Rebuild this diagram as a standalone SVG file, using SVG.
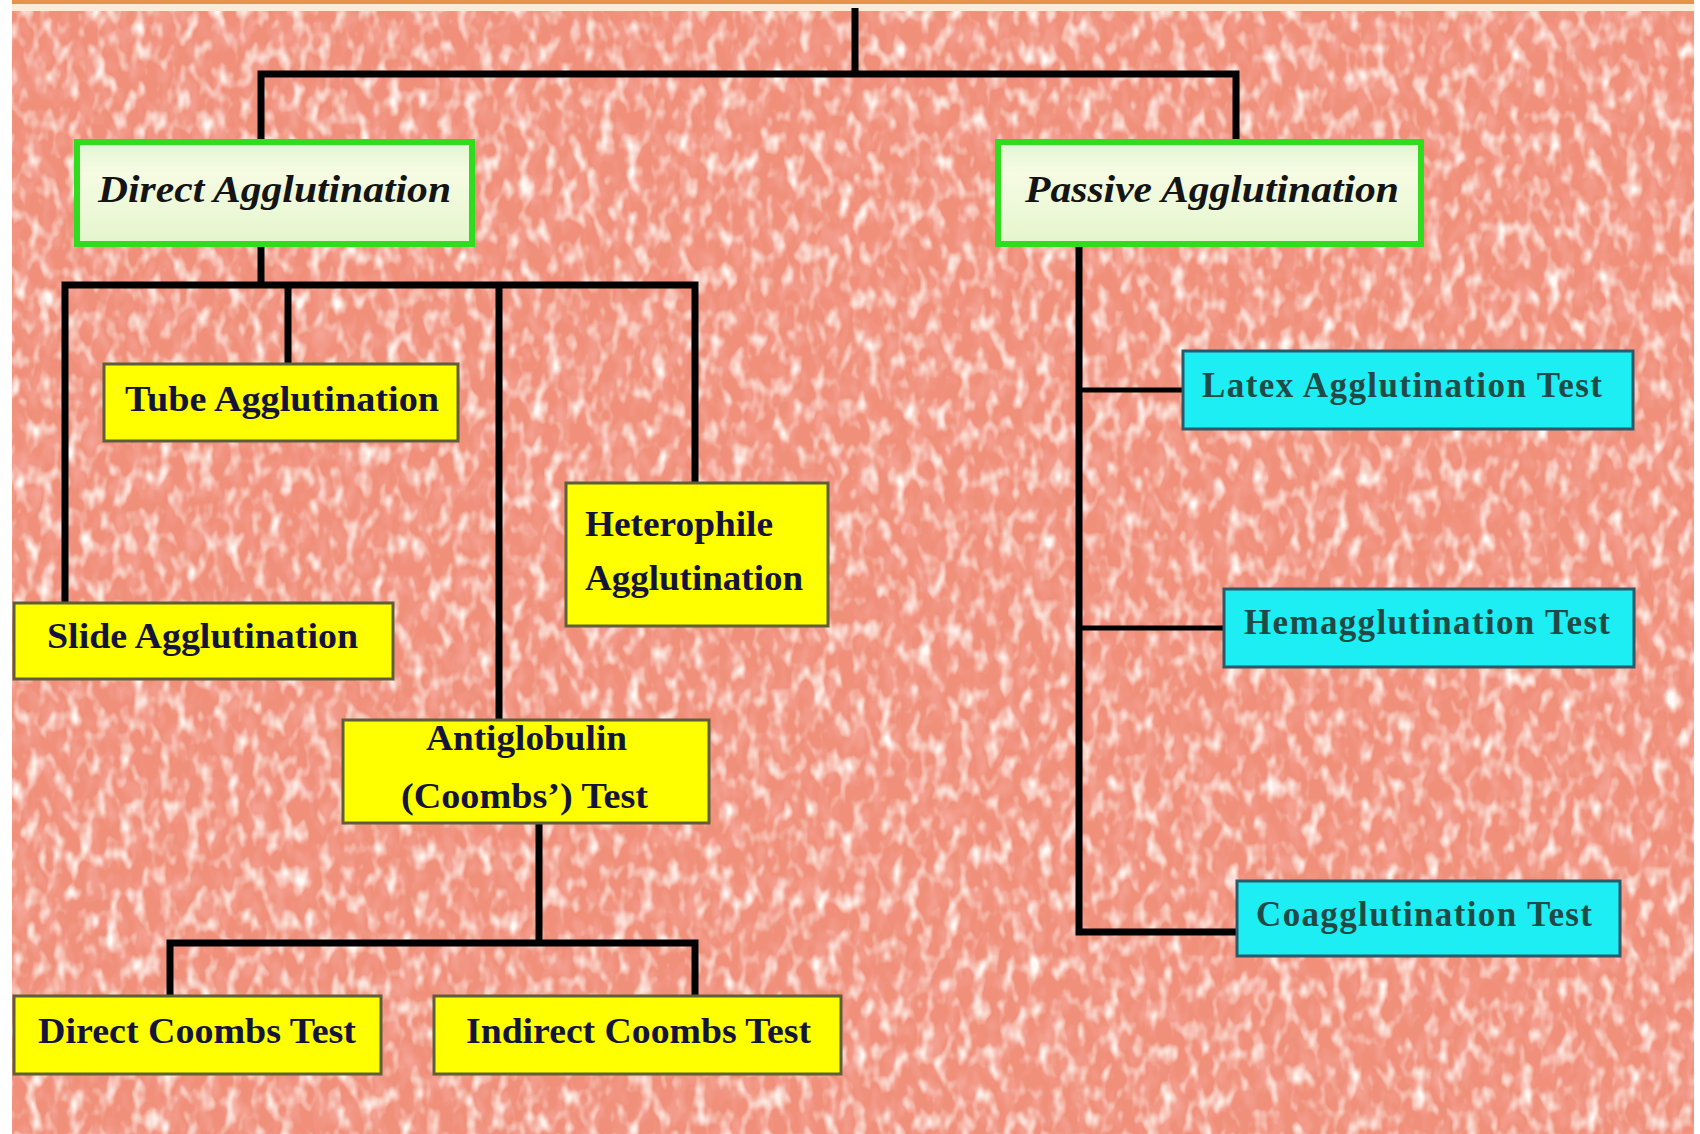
<svg xmlns="http://www.w3.org/2000/svg" width="1700" height="1134" viewBox="0 0 1700 1134">
<defs>
  <filter id="speck" x="0" y="0" width="100%" height="100%">
    <feTurbulence type="fractalNoise" baseFrequency="0.075 0.045" numOctaves="2" seed="7" result="n"/>
    <feColorMatrix in="n" type="matrix" values="0 0 0 0 1  0 0 0 0 0.96  0 0 0 0 0.92  2.8 0 0 0 -1.35"/>
  </filter>
  <filter id="dark" x="0" y="0" width="100%" height="100%">
    <feTurbulence type="fractalNoise" baseFrequency="0.07 0.04" numOctaves="2" seed="21" result="n"/>
    <feColorMatrix in="n" type="matrix" values="0 0 0 0 0.92  0 0 0 0 0.38  0 0 0 0 0.32  2.2 0 0 0 -1.0"/>
  </filter>
  <linearGradient id="gfill" x1="0" y1="0" x2="0" y2="1">
    <stop offset="0" stop-color="#E2F6D2"/>
    <stop offset="0.3" stop-color="#F6FBE2"/>
    <stop offset="0.6" stop-color="#EEF9DA"/>
    <stop offset="1" stop-color="#E4F6CC"/>
  </linearGradient>
  <style>
    .green { fill: url(#gfill); stroke: #2FDC1E; stroke-width: 6; }
    .yellow { fill: #FFFF00; stroke: #5E5E3A; stroke-width: 3; }
    .cyan { fill: #1CEEF4; stroke: #2C5868; stroke-width: 3; }
    .tg { font-family: "Liberation Serif", "Times New Roman", serif; font-weight: bold; font-style: italic; font-size: 38px; fill: #141414; }
    .ty { font-family: "Liberation Serif", "Times New Roman", serif; font-weight: bold; font-size: 36px; fill: #14143A; }
    .tc { font-family: "Liberation Serif", "Times New Roman", serif; font-weight: bold; font-size: 35px; fill: #1F4A46; }
    .ln { fill: none; stroke: #000; stroke-width: 7; stroke-linejoin: miter; }
    .br { fill: none; stroke: #000; stroke-width: 5; }
  </style>
</defs>

<!-- background -->
<rect x="0" y="0" width="1700" height="1134" fill="#FFFFFF"/>
<rect x="12" y="11" width="1682" height="1123" fill="#F0907B"/>
<rect x="12" y="11" width="1682" height="1123" filter="url(#dark)"/>
<rect x="12" y="11" width="1682" height="1123" filter="url(#speck)"/>
<rect x="12" y="0" width="1682" height="4" fill="#E8934A"/>
<rect x="12" y="4" width="1682" height="7" fill="#FBEBD8"/>

<g id="connectors">
  <path class="ln" d="M855 8 V74"/>
  <path class="ln" d="M261 139 V74 H1236 V139"/>
  <path class="ln" d="M261 247 V285"/>
  <path class="ln" d="M65 602 V285 H695 V482"/>
  <path class="ln" d="M288 285 V363"/>
  <path class="ln" d="M499 285 V719"/>
  <path class="ln" d="M539 824 V943"/>
  <path class="ln" d="M170 995 V943 H695 V995"/>
  <path class="ln" d="M1079 247 V932 H1236"/>
  <path class="br" d="M1079 390 H1183"/>
  <path class="br" d="M1079 628 H1223"/>
</g>

<g id="direct-agglutination">
  <rect class="green" x="77" y="142" width="395" height="102"/>
  <text class="tg" x="98" y="202" textLength="353" lengthAdjust="spacingAndGlyphs">Direct Agglutination</text>
</g>
<g id="passive-agglutination">
  <rect class="green" x="998" y="142" width="423" height="102"/>
  <text class="tg" x="1025" y="202" textLength="374" lengthAdjust="spacingAndGlyphs">Passive Agglutination</text>
</g>

<g id="tube-agglutination">
  <rect class="yellow" x="104" y="364" width="354" height="77"/>
  <text class="ty" x="125" y="411" textLength="314" lengthAdjust="spacingAndGlyphs">Tube Agglutination</text>
</g>
<g id="slide-agglutination">
  <rect class="yellow" x="14" y="603" width="379" height="76"/>
  <text class="ty" x="47" y="648" textLength="311" lengthAdjust="spacingAndGlyphs">Slide Agglutination</text>
</g>
<g id="heterophile-agglutination">
  <rect class="yellow" x="566" y="483" width="262" height="143"/>
  <text class="ty" x="585" y="536" textLength="188" lengthAdjust="spacingAndGlyphs">Heterophile</text>
  <text class="ty" x="585" y="590" textLength="218" lengthAdjust="spacingAndGlyphs">Agglutination</text>
</g>
<g id="antiglobulin-test">
  <rect class="yellow" x="343" y="720" width="366" height="103"/>
  <text class="ty" x="426" y="750" textLength="201" lengthAdjust="spacingAndGlyphs">Antiglobulin</text>
  <text class="ty" x="401" y="808" textLength="247" lengthAdjust="spacingAndGlyphs">(Coombs’) Test</text>
</g>
<g id="direct-coombs-test">
  <rect class="yellow" x="14" y="996" width="367" height="78"/>
  <text class="ty" x="38" y="1043" textLength="318" lengthAdjust="spacingAndGlyphs">Direct Coombs Test</text>
</g>
<g id="indirect-coombs-test">
  <rect class="yellow" x="434" y="996" width="407" height="78"/>
  <text class="ty" x="466" y="1043" textLength="345" lengthAdjust="spacingAndGlyphs">Indirect Coombs Test</text>
</g>

<g id="latex-agglutination-test">
  <rect class="cyan" x="1183" y="351" width="450" height="78"/>
  <text class="tc" x="1202" y="397" textLength="400" lengthAdjust="spacing">Latex Agglutination Test</text>
</g>
<g id="hemagglutination-test">
  <rect class="cyan" x="1224" y="589" width="410" height="78"/>
  <text class="tc" x="1244" y="634" textLength="366" lengthAdjust="spacing">Hemagglutination Test</text>
</g>
<g id="coagglutination-test">
  <rect class="cyan" x="1237" y="881" width="383" height="75"/>
  <text class="tc" x="1256" y="926" textLength="336" lengthAdjust="spacing">Coagglutination Test</text>
</g>
</svg>
